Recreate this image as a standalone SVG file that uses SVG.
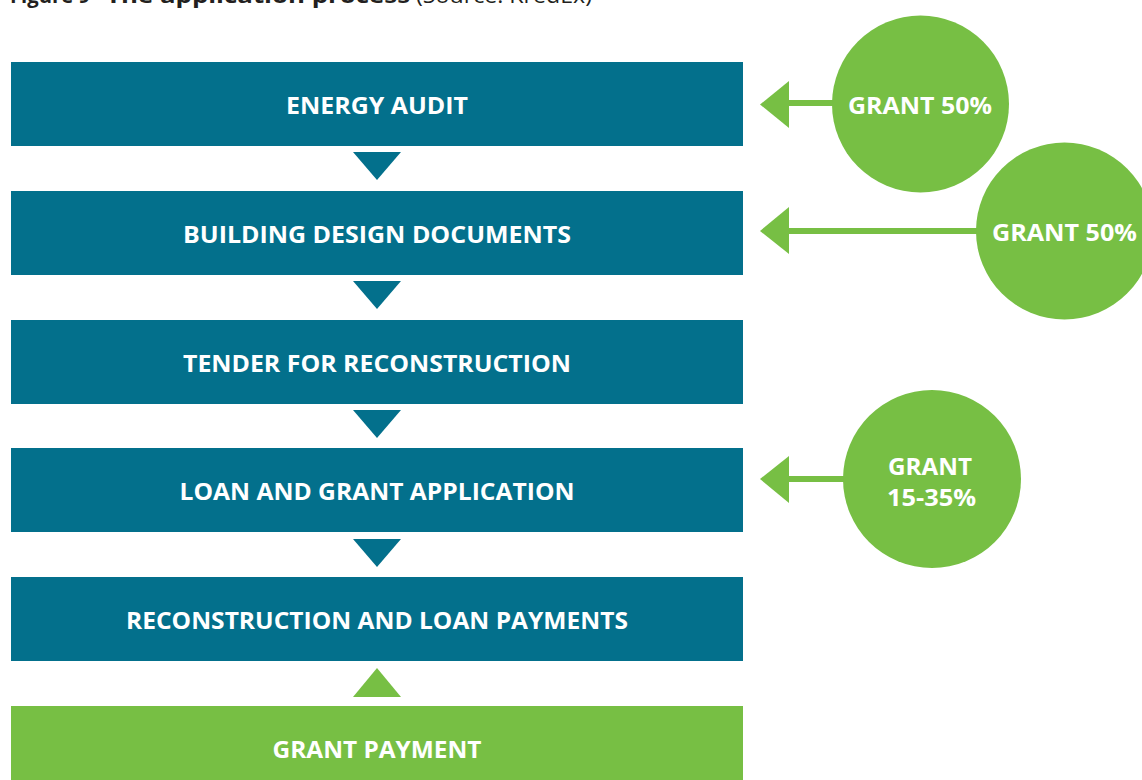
<svg xmlns="http://www.w3.org/2000/svg" width="1142" height="780" viewBox="0 0 1142 780">
<defs>
<style>
.teal{fill:#03708c}
.green{fill:#77bf44}
.lbl{font-family:"Open Sans","Liberation Sans",sans-serif;font-weight:700;font-size:23px;fill:#ffffff;text-anchor:middle}
.ttl{font-family:"Open Sans","Liberation Sans",sans-serif;font-size:21px;fill:#231f20}
.shaft{stroke:#77bf44;stroke-width:6;fill:none}
</style>
</defs>
<rect width="1142" height="780" fill="#ffffff"/>
<g id="title">
<text class="ttl" x="10" y="3" font-weight="700" textLength="80" lengthAdjust="spacingAndGlyphs">Figure 9</text>
<text class="ttl" x="106" y="3" font-weight="700" textLength="304" lengthAdjust="spacingAndGlyphs">The application process</text>
<text class="ttl" x="416" y="3" textLength="176" lengthAdjust="spacingAndGlyphs">(Source: KredEx)</text>
</g>
<g id="connectors">
<polygon class="teal" points="353,152 401,152 377,180"/>
<polygon class="teal" points="353,281 401,281 377,309"/>
<polygon class="teal" points="353,410 401,410 377,438"/>
<polygon class="teal" points="353,539 401,539 377,567"/>
<polygon class="green" points="353,697 401,697 377,668"/>
<line class="shaft" x1="785" y1="103" x2="840" y2="103"/>
<polygon class="green" points="760,104.5 789,81 789,128"/>
<line class="shaft" x1="785" y1="231" x2="985" y2="231"/>
<polygon class="green" points="760,231 789,207 789,254"/>
<line class="shaft" x1="785" y1="479" x2="850" y2="479"/>
<polygon class="green" points="760,479 789,456 789,503"/>
</g>
<g id="energy-audit">
<rect class="teal" x="11" y="62" width="732" height="84"/>
<text class="lbl" x="377" y="113.5" textLength="182" lengthAdjust="spacingAndGlyphs">ENERGY AUDIT</text>
</g>
<g id="building-design">
<rect class="teal" x="11" y="191" width="732" height="84"/>
<text class="lbl" x="377" y="242.5" textLength="388" lengthAdjust="spacingAndGlyphs">BUILDING DESIGN DOCUMENTS</text>
</g>
<g id="tender">
<rect class="teal" x="11" y="320" width="732" height="84"/>
<text class="lbl" x="377" y="371.5" textLength="388" lengthAdjust="spacingAndGlyphs">TENDER FOR RECONSTRUCTION</text>
</g>
<g id="loan-grant-application">
<rect class="teal" x="11" y="448" width="732" height="84"/>
<text class="lbl" x="377" y="499.5" textLength="395" lengthAdjust="spacingAndGlyphs">LOAN AND GRANT APPLICATION</text>
</g>
<g id="reconstruction-loan">
<rect class="teal" x="11" y="577" width="732" height="84"/>
<text class="lbl" x="377" y="628.5" textLength="502" lengthAdjust="spacingAndGlyphs">RECONSTRUCTION AND LOAN PAYMENTS</text>
</g>
<g id="grant-payment">
<rect class="green" x="11" y="706" width="732" height="84"/>
<text class="lbl" x="377" y="758" textLength="209" lengthAdjust="spacingAndGlyphs">GRANT PAYMENT</text>
</g>
<g id="grant-1">
<circle class="green" cx="920.5" cy="104" r="88.5"/>
<text class="lbl" x="920" y="114" textLength="144" lengthAdjust="spacingAndGlyphs">GRANT 50%</text>
</g>
<g id="grant-2">
<circle class="green" cx="1064.5" cy="231" r="88.5"/>
<text class="lbl" x="1064.5" y="241" textLength="145" lengthAdjust="spacingAndGlyphs">GRANT 50%</text>
</g>
<g id="grant-3">
<circle class="green" cx="932" cy="479" r="89"/>
<text class="lbl" x="930" y="475" textLength="84" lengthAdjust="spacingAndGlyphs">GRANT</text>
<text class="lbl" x="931.5" y="506" textLength="89" lengthAdjust="spacingAndGlyphs">15-35%</text>
</g>
</svg>
